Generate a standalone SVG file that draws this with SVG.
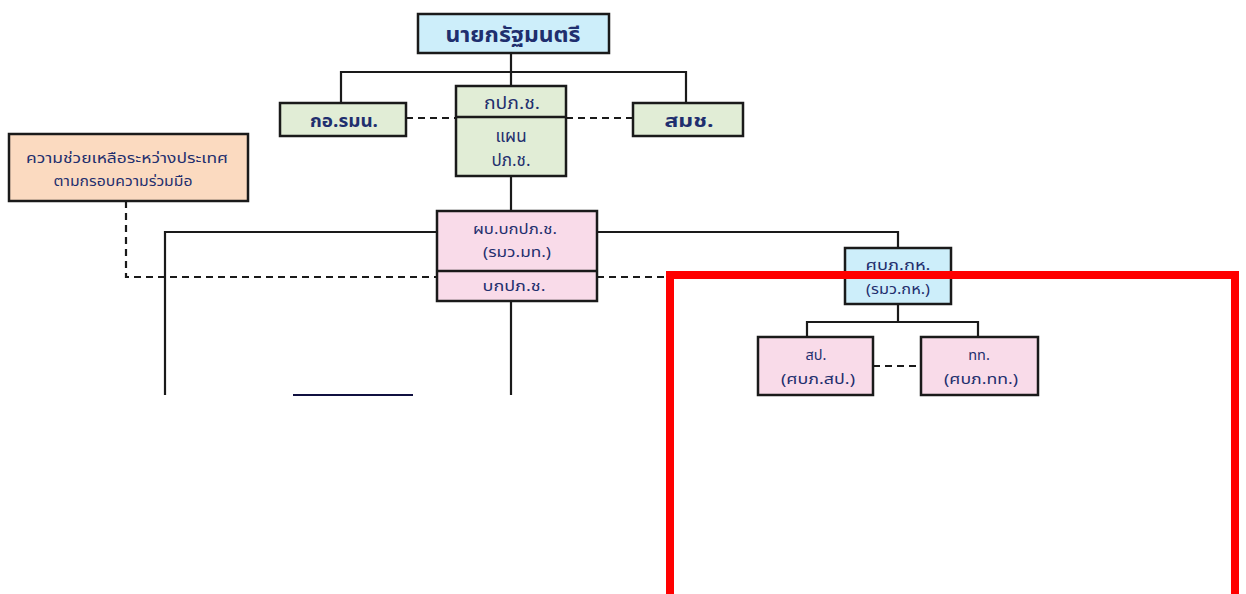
<svg xmlns="http://www.w3.org/2000/svg" width="1246" height="594" viewBox="0 0 1246 594">
<style>
.box{stroke:#1a1a1a;stroke-width:2.5}
.blue{fill:#cdeefa}
.green{fill:#e1edd6}
.peach{fill:#fbdac0}
.pink{fill:#f9dbe9}
.ln{fill:none;stroke:#1a1a1a;stroke-width:2.2}
.dash{fill:none;stroke:#1a1a1a;stroke-width:2.2;stroke-dasharray:7 5}
text{font-family:"Noto Sans Thai","Noto Sans","DejaVu Sans",sans-serif;fill:#1f2f6e;text-anchor:middle}
.b{font-weight:bold}
.m{font-size:17px}
.s{font-size:14.5px}
</style>
<rect width="1246" height="594" fill="#ffffff"/>
<g id="connectors">
<path class="ln" d="M511 53V86M341 103V72H686V103"/>
<path class="dash" d="M406 118H456M566 118H633"/>
<path class="ln" d="M511 176V211"/>
<path class="dash" d="M126 201V277H437M597 277H845"/>
<path class="ln" d="M165 395V232H437M597 232H898V248"/>
<path class="ln" d="M511 301V395"/>
<path class="ln" d="M898 304V322M807 337V322H978V337"/>
<path class="dash" d="M873 366H921"/>
<path d="M293 395H413" stroke="#101040" stroke-width="2.2" fill="none"/>
</g>
<g id="n-pm">
<rect class="box blue" x="418" y="14" width="191" height="39"/>
<text class="b" x="513" y="42" font-size="21" textLength="135" lengthAdjust="spacingAndGlyphs">นายกรัฐมนตรี</text>
</g>
<g id="n-isoc">
<rect class="box green" x="280" y="103" width="126" height="33"/>
<text class="b" x="344" y="127" font-size="18" textLength="68" lengthAdjust="spacingAndGlyphs">กอ.รมน.</text>
</g>
<g id="n-kpc">
<rect class="box green" x="456" y="86" width="110" height="90"/>
<line class="box" x1="456" y1="117" x2="566" y2="117"/>
<text class="m" x="512" y="109" textLength="56" lengthAdjust="spacingAndGlyphs">กปภ.ช.</text>
<text class="m" x="511" y="142">แผน</text>
<text class="m" x="511" y="166">ปภ.ช.</text>
</g>
<g id="n-nsc">
<rect class="box green" x="633" y="103" width="110" height="33"/>
<text class="b" x="689" y="127" font-size="18" textLength="49" lengthAdjust="spacingAndGlyphs">สมช.</text>
</g>
<g id="n-intl">
<rect class="box peach" x="9" y="134" width="239" height="67"/>
<text class="s" x="127" y="163" textLength="202" lengthAdjust="spacingAndGlyphs">ความช่วยเหลือระหว่างประเทศ</text>
<text class="s" x="123" y="186" textLength="139" lengthAdjust="spacingAndGlyphs">ตามกรอบความร่วมมือ</text>
</g>
<g id="n-cmd">
<rect class="box pink" x="437" y="211" width="160" height="90"/>
<line class="box" x1="437" y1="271" x2="597" y2="271"/>
<text class="s" x="515" y="234" textLength="84" lengthAdjust="spacingAndGlyphs">ผบ.บกปภ.ช.</text>
<text class="s" x="517" y="257" textLength="68" lengthAdjust="spacingAndGlyphs">(รมว.มท.)</text>
<text class="s" x="514" y="291" textLength="63" lengthAdjust="spacingAndGlyphs">บกปภ.ช.</text>
</g>
<g id="n-mod">
<rect class="box blue" x="845" y="248" width="106" height="56"/>
<text class="s" x="898" y="270" textLength="65" lengthAdjust="spacingAndGlyphs">ศบภ.กห.</text>
<text class="s" x="898" y="294" textLength="64" lengthAdjust="spacingAndGlyphs">(รมว.กห.)</text>
</g>
<g id="n-ps">
<rect class="box pink" x="758" y="337" width="115" height="58"/>
<text class="s" x="816" y="360">สป.</text>
<text class="s" x="818" y="384" textLength="74" lengthAdjust="spacingAndGlyphs">(ศบภ.สป.)</text>
</g>
<g id="n-rtaf">
<rect class="box pink" x="921" y="337" width="117" height="58"/>
<text class="s" x="979" y="360">ทท.</text>
<text class="s" x="981" y="384" textLength="74" lengthAdjust="spacingAndGlyphs">(ศบภ.ทท.)</text>
</g>
<rect x="396" y="397" width="850" height="197" fill="#ffffff"/>
<rect x="0" y="397" width="400" height="197" fill="#ffffff"/>
<path d="M670 600V275H1235V600" fill="none" stroke="#ff0000" stroke-width="8"/>
</svg>
